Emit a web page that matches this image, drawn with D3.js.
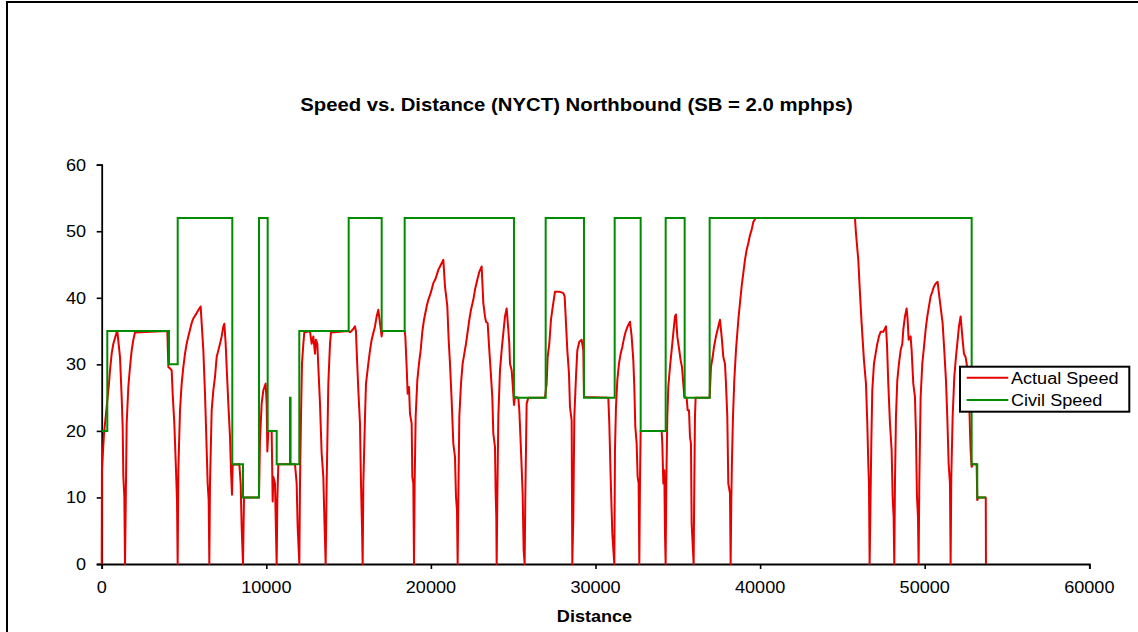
<!DOCTYPE html>
<html>
<head>
<meta charset="utf-8">
<script src="https://cdn.jsdelivr.net/npm/d3@7"></script>
<style>
  html, body { margin: 0; padding: 0; background: #fff; }
  svg { display: block; }
  text { font-family: Arial, "Liberation Sans", sans-serif; fill: #000; }
</style>
</head>
<body>
<svg id="chart" width="1138" height="632"></svg>
<script>
// ---------------- DATA ----------------
const chartTitle = "Speed vs. Distance (NYCT) Northbound (SB = 2.0 mphps)";
const xAxisTitle = "Distance";
const xTicks = [0, 10000, 20000, 30000, 40000, 50000, 60000];
const yTicks = [0, 10, 20, 30, 40, 50, 60];
const seriesNames = ["Actual Speed", "Civil Speed"];

// Civil speed limit (step function): distance where limit starts, speed
const civilDist  = [0, 340, 4089, 4617, 7934, 8584, 9556, 10084, 10631, 11439, 11475, 12004, 15005, 17010, 18407, 25047, 26973, 29300, 31165, 32744, 34263, 35417, 36936, 52853, 53193, 53722];
const civilSpeed = [20, 35, 30, 52, 15, 10, 52, 20, 15, 25, 15, 35, 52, 35, 52, 25, 52, 25, 52, 20, 52, 25, 52, 15, 10, 10];

// Actual speed profile: [distance, speed]
const actualSpeed = [
  [0,0],[15,14.1],[140,19.6],[424,26.6],[505,29.1],[606,31.6],[707,33.1],[910,34.8],[950,35],[1112,31.1],[1213,25.1],[1274,20.6],[1315,13.1],[1375,10.1],[1416,0],
  [1456,8.1],[1517,21.1],[1618,26.6],[1720,29.6],[1821,32.1],[1922,33.7],[2023,34.8],[3988,35],[4048,29.6],[4150,29.4],[4251,29.1],[4312,25.6],[4413,21.1],[4514,14.1],[4575,9.6],[4615,0],
  [4656,14.1],[4757,23.1],[4858,27.1],[4960,29.6],[5061,31.6],[5162,33.1],[5263,34.2],[5365,35.2],[5466,36.2],[5567,36.9],[5770,37.7],[5911,38.3],[6013,38.7],[6073,36.2],[6175,32.1],[6276,25.6],[6337,20.6],[6438,12.1],[6499,9.6],[6539,0],
  [6580,12.1],[6681,23.1],[6782,26.1],[6883,28.1],[6985,31.1],[7086,32.1],[7187,33.1],[7288,34.2],[7390,35.7],[7450,36.1],[7531,33.1],[7592,29.6],[7693,24.1],[7795,19.1],[7855,14.1],[7916,10.4],[7957,14.9],[8362,15],[8443,12.1],[8503,5.6],[8584,0],
  [8645,10],[9556,10],[9617,18.6],[9718,24.1],[9820,26.1],[9961,27.1],[10022,24.1],[10063,16.9],[10123,20],[10326,20],[10387,9.4],[10427,13.1],[10528,12.1],[10589,4.6],[10630,0],
  [10670,9.6],[10731,15],[11743,15],[11845,12.1],[11905,5.6],[12007,0],
  [12047,12.1],[12108,22.1],[12169,30.1],[12250,33.1],[12310,34.8],[12655,35],[12756,33.1],[12857,34.2],[12958,31.6],[13019,33.7],[13100,33.1],[13161,29.6],[13262,24.1],[13363,16.6],[13465,13.1],[13525,7.1],[13606,0],
  [13667,12.1],[13768,27.1],[13870,33.1],[13930,34.8],[15004,35],[15085,34.8],[15247,35.2],[15388,35.7],[15449,34.9],[15490,32.1],[15591,26.1],[15692,21.1],[15753,12.1],[15814,5.6],[15854,0],
  [15895,12.1],[15996,22.1],[16057,27.1],[16198,30.1],[16300,32.1],[16401,33.7],[16502,34.7],[16603,35.7],[16705,37.2],[16806,38.2],[16907,36.2],[17008,34.2],[17050,35],[18405,35],[18446,34.2],[18527,29.6],[18588,25.6],[18669,26.6],[18730,22.6],[18831,21.1],[18871,13.1],[18932,12.1],[18973,0],
  [19013,12.1],[19074,22.1],[19175,27.6],[19276,30.1],[19378,32.1],[19479,34.9],[19580,36.7],[19742,38.7],[19843,39.7],[19985,40.7],[20147,42.2],[20289,42.9],[20451,44.2],[20653,45.2],[20755,45.7],[20856,41.7],[20998,38.7],[21079,33.7],[21160,30.1],[21261,24.6],[21362,18.1],[21463,16.1],[21524,10.1],[21585,8.1],[21625,0],
  [21666,9.6],[21727,22.1],[21828,27.1],[21929,30.1],[22030,31.6],[22132,33.1],[22233,34.9],[22334,36.7],[22435,38.2],[22577,39.7],[22678,41.2],[22820,42.7],[22942,43.9],[23083,44.7],[23185,39.2],[23286,37.2],[23347,36.4],[23448,36.2],[23549,32.1],[23630,29.1],[23731,25.1],[23792,19.6],[23893,17.6],[23934,10.6],[23974,7.1],[23995,0],
  [24035,9.6],[24096,22.1],[24197,29.1],[24298,32.1],[24400,34.7],[24501,37.2],[24602,38.4],[24703,35.2],[24764,33.1],[24805,30.1],[24906,29.1],[24967,27.1],[25048,23.9],[25108,25.1],[25311,25],[25372,23.1],[25473,17.1],[25574,10.6],[25635,2.1],[25696,0],
  [25736,10.1],[25817,24.1],[25918,25],[26931,25],[27032,27.1],[27093,31.1],[27194,33.1],[27295,36.7],[27376,38.2],[27478,39.9],[27538,40.9],[27842,40.9],[28045,40.7],[28126,40.2],[28207,36.2],[28288,32.1],[28389,28.6],[28450,23.6],[28551,21.6],[28591,0],
  [28652,7.1],[28713,22.1],[28814,28.1],[28895,32.1],[29017,33.4],[29158,33.7],[29260,32.1],[29300,25.1],[30778,25],[30839,21.1],[30920,13.1],[31021,4.6],[31143,0],
  [31183,17.1],[31244,23.6],[31325,27.6],[31426,30.1],[31528,31.6],[31629,32.6],[31730,33.9],[31831,34.9],[31953,35.7],[32095,36.4],[32196,34.2],[32297,30.6],[32358,26.6],[32419,20.6],[32500,18.1],[32560,13.1],[32621,12.1],[32662,0],
  [32702,12.1],[32743,20],[34018,20],[34059,18.1],[34120,12.1],[34180,14.1],[34221,4.6],[34261,0],
  [34302,12.1],[34363,22.1],[34423,26.6],[34525,29.6],[34626,32.1],[34727,34.7],[34828,37.2],[34889,37.5],[34970,34.2],[35092,32.1],[35173,30.6],[35254,29.6],[35335,27.1],[35395,25.1],[35537,25],[35598,23.1],[35679,23.1],[35740,19.1],[35800,18.1],[35841,6.1],[35962,0],
  [36003,12.1],[36043,22.1],[36084,25],[36934,25],[36955,26.1],[37015,29.6],[37117,31.1],[37198,32.6],[37319,34.2],[37461,35.7],[37562,36.7],[37663,34.2],[37765,31.1],[37866,30.1],[37927,27.1],[38008,22.1],[38068,12.1],[38170,10.6],[38210,0],
  [38251,9.6],[38291,15.6],[38352,22.1],[38433,27.6],[38534,32.1],[38615,34.7],[38696,37.2],[38777,39.2],[38878,41.7],[38980,43.7],[39081,45.7],[39182,47.2],[39283,48.2],[39385,49.4],[39486,50.2],[39587,51.4],[39729,52],[45763,52],[45824,49.7],[45966,45.7],[46067,40.7],[46168,36.2],[46310,30.6],[46432,27.1],[46513,21.1],[46573,15.1],[46614,12.1],[46654,0],
  [46695,7.1],[46756,18.1],[46816,26.1],[46918,30.1],[47019,31.6],[47120,33.1],[47221,34.2],[47323,34.9],[47485,34.9],[47647,35.7],[47707,33.1],[47788,27.1],[47890,21.1],[47991,17.1],[48052,10.1],[48112,7.1],[48153,0],
  [48193,12.1],[48254,22.1],[48335,27.6],[48436,30.1],[48538,32.1],[48639,33.1],[48700,35.2],[48801,37.2],[48902,38.4],[48963,36.7],[49024,33.7],[49145,34.2],[49206,32.1],[49307,27.1],[49408,25.1],[49469,19.6],[49530,10.1],[49591,7.1],[49631,0],
  [49672,12.1],[49753,25.1],[49854,30.1],[49955,32.6],[50056,35.2],[50158,37.2],[50259,38.7],[50360,40.2],[50461,40.9],[50563,41.7],[50684,42.2],[50785,42.4],[50887,40.2],[50988,38.2],[51089,36.2],[51190,32.1],[51292,27.6],[51373,22.1],[51454,15.1],[51535,12.1],[51575,0],
  [51616,13.1],[51697,22.1],[51798,28.1],[51899,31.1],[51980,33.1],[52081,35.7],[52183,37.2],[52284,34.2],[52385,31.6],[52486,31.1],[52547,30.1],[52648,28.1],[52709,24.1],[52750,20.1],[52790,17.1],[52851,14.6],[52912,15],[53155,15],[53195,9.6],[53256,10],[53710,10],[53722,0]
];

// ---------------- LAYOUT ----------------
const W = 1138, H = 632;
const plot = { left: 101.7, right: 1089.3, top: 164.7, bottom: 564 };
const SX = 1.13; // horizontal stretch of the original rendering
const colRed = "#e60000", colGreen = "#008c00";

const svg = d3.select("#chart");

// outer chart-area border (extends past right/bottom edge)
svg.append("rect")
  .attr("x", 7).attr("y", 2).attr("width", 1200).attr("height", 700)
  .attr("fill", "#fff").attr("stroke", "#000").attr("stroke-width", 2);

const x = d3.scaleLinear().domain([0, 60000]).range([plot.left, plot.right]);
const y = d3.scaleLinear().domain([0, 60]).range([plot.bottom, plot.top]);

function stretchedText(g, px, py, str, opts) {
  const t = g.append("g").attr("transform", `translate(${px},${py}) scale(${SX},1)`)
    .append("text")
    .attr("x", 0).attr("y", 0)
    .attr("text-anchor", opts.anchor || "start")
    .style("font-size", opts.size + "px")
    .style("font-weight", opts.weight || "normal")
    .text(str);
  return t;
}

// Title
stretchedText(svg, 576.5, 110.7, chartTitle, { anchor: "middle", size: 18, weight: "bold" });

// Axes
const yAxis = d3.axisLeft(y).tickValues(yTicks).tickSize(5).tickFormat("");
const xAxis = d3.axisBottom(x).tickValues(xTicks).tickSize(5).tickFormat("");

const gy = svg.append("g").attr("transform", `translate(${plot.left},0)`).call(yAxis);
const gx = svg.append("g").attr("transform", `translate(0,${plot.bottom})`).call(xAxis);
[gx, gy].forEach(g => {
  g.selectAll("path.domain").attr("stroke", "#000").attr("stroke-width", 1.8);
  g.selectAll(".tick line").attr("stroke", "#000").attr("stroke-width", 1.6);
});

// tick labels
yTicks.forEach(v => stretchedText(svg, 86, y(v) + 6, String(v), { anchor: "end", size: 16 }));
xTicks.forEach(v => stretchedText(svg, x(v), 593.3, String(v), { anchor: "middle", size: 16 }));

// axis title
stretchedText(svg, 594.5, 621.7, xAxisTitle, { anchor: "middle", size: 16, weight: "bold" });

// Series
const civilData = civilDist.map((d, i) => [d, civilSpeed[i]]);
const lineActual = d3.line().x(d => x(d[0])).y(d => y(d[1]));
const lineCivil = d3.line().x(d => x(d[0])).y(d => y(d[1])).curve(d3.curveStepAfter);

svg.append("path").datum(actualSpeed)
  .attr("d", lineActual).attr("fill", "none")
  .attr("stroke", colRed).attr("stroke-width", 2).attr("stroke-linejoin", "round");

svg.append("path").datum(civilData)
  .attr("d", lineCivil).attr("fill", "none")
  .attr("stroke", colGreen).attr("stroke-width", 2);

// Legend
const lg = svg.append("g");
lg.append("rect").attr("x", 960).attr("y", 366.7).attr("width", 169.3).attr("height", 45)
  .attr("fill", "#fff").attr("stroke", "#000").attr("stroke-width", 2);
const legendColors = [colRed, colGreen];
seriesNames.forEach((name, i) => {
  const ly = 377.7 + i * 22.3;
  lg.append("line").attr("x1", 966.7).attr("x2", 1008.3).attr("y1", ly).attr("y2", ly)
    .attr("stroke", legendColors[i]).attr("stroke-width", 2);
  stretchedText(lg, 1011, ly + 5.8, name, { anchor: "start", size: 16 });
});
</script>
</body>
</html>
